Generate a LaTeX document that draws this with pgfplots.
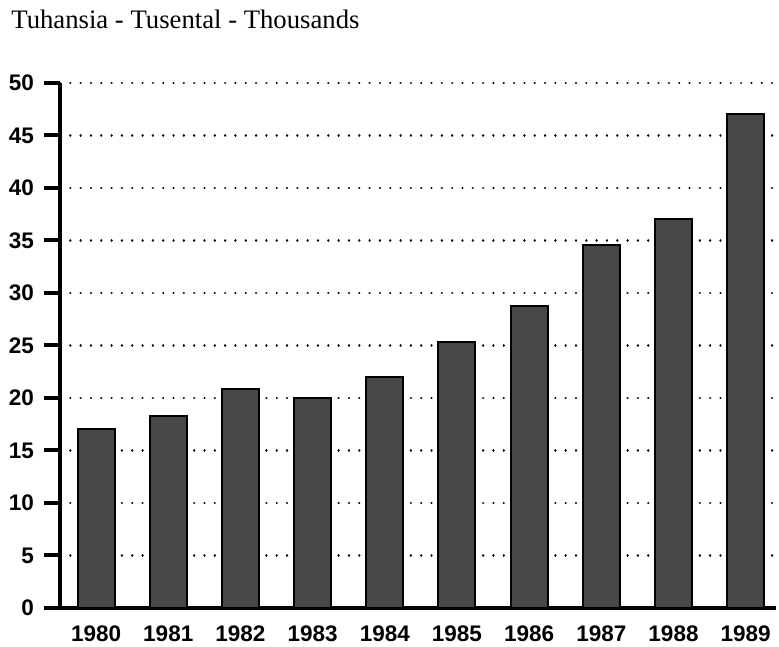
\documentclass[border=0pt]{standalone}
\usepackage{fontspec}
\setmainfont{Liberation Serif}
\newfontfamily\tickfont{Liberation Sans}
\usepackage{pgfplots}
\pgfplotsset{compat=1.18}
\begin{document}
\begin{tikzpicture}
\useasboundingbox (-30bp,-19.5bp) rectangle (359.5bp,304bp);
\begin{axis}[
  anchor=south west, at={(0,0)},
  scale only axis,
  width=358bp, height=262.5bp,
  xmin=-0.5, xmax=9.42,
  ymin=0, ymax=50,
  axis x line=bottom, axis y line=left,
  axis line style={line width=2bp, -},
  xtick={0,...,9},
  xticklabels={1980,1981,1982,1983,1984,1985,1986,1987,1988,1989},
  x tick style={draw=none},
  ytick={0,5,...,50},
  y tick style={line width=2bp, black},
  tick align=outside,
  major tick length=8bp,
  ymajorgrids,
  major grid style={line width=1.2bp, dash pattern=on 0.01bp off 5.15bp, line cap=round, black},
  xticklabel style={inner sep=0.4bp},
  xticklabel shift=0.5bp,
  yticklabel shift=1.5bp,
  tick label style={font=\tickfont\bfseries\fontsize{11.3}{13}\selectfont},
  /pgf/number format/assume math mode=true,
  clip=false,
]
\addplot[ybar, bar width=18.5bp, fill=black!72, draw=black, line width=1bp]
  coordinates {(0,17) (1,18.3) (2,20.9) (3,20) (4,22) (5,25.3) (6,28.8) (7,34.6) (8,37) (9,47)};
\end{axis}
\node[anchor=base west, inner sep=0] at (-24.5bp,289.5bp) {\fontsize{13.4}{15}\selectfont Tuhansia - Tusental - Thousands};
\end{tikzpicture}
\end{document}
